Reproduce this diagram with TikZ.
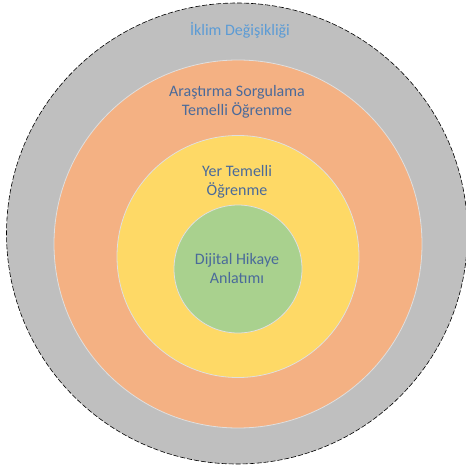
\documentclass[tikz,border=0pt]{standalone}
\usepackage{fontspec}
\setmainfont{Carlito}
\definecolor{ringgray}{HTML}{BFBFBF}
\definecolor{ringorange}{HTML}{F4B183}
\definecolor{ringyellow}{HTML}{FED966}
\definecolor{ringgreen}{HTML}{A9D18E}
\definecolor{labelblue}{HTML}{4A6A9A}
\definecolor{titleblue}{HTML}{5B9BD5}
\begin{document}
\begin{tikzpicture}[x=1pt,y=-1pt,
  ring/.style={circle,inner sep=0pt,draw=white!75!gray,line width=0.8pt},
  lbl/.style={align=center,text=labelblue,font=\fontsize{16}{19}\selectfont,inner sep=0pt}]
  \useasboundingbox (0,0) rectangle (465,470);
  \fill[white] (0,0) rectangle (465,470);
  % nested circles, outermost first
  \node[circle,inner sep=0pt,minimum size=461pt,fill=ringgray,draw=black,dashed,
        dash pattern=on 5pt off 2pt,line width=0.6pt] (outer) at (237,233.5) {};
  \node[ring,fill=ringorange,minimum size=368pt] (inquiry) at (238,244) {};
  \node[ring,fill=ringyellow,minimum size=242pt] (place) at (238,256.5) {};
  \node[ring,fill=ringgreen,minimum size=128pt] (digital) at (238,269) {};
  % labels (base anchor sits on the last line)
  \node[lbl,text=titleblue,anchor=base] (t1) at (240,36) {İklim Değişikliği};
  \node[lbl,anchor=base] (t2) at (237,116) {Araştırma Sorgulama\\Temelli Öğrenme};
  \node[lbl,anchor=base] (t3) at (237,195) {Yer Temelli\\Öğrenme};
  \node[lbl,anchor=base] (t4) at (237,283) {Dijital Hikaye\\Anlatımı};
\end{tikzpicture}
\end{document}
